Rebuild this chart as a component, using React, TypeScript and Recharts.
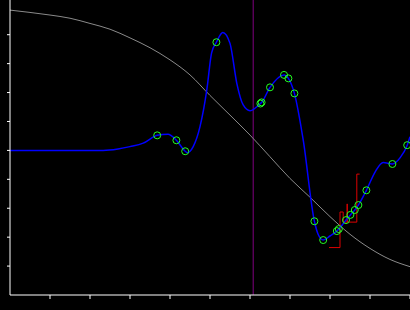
import { ComposedChart, Line, Scatter, XAxis, YAxis, ReferenceLine } from 'recharts';

// blue curve (mean)
const meanX = [0, 2.33, 2.7, 3.0, 3.33, 3.68, 3.95, 4.16, 4.38, 4.43, 4.58, 4.75, 4.92, 5.04, 5.16, 5.32, 5.5, 5.67, 5.83, 6.0, 6.17, 6.26, 6.29, 6.5, 6.85, 6.96, 7.11, 7.33, 7.61, 7.7, 7.83, 8.0, 8.17, 8.22, 8.4, 8.51, 8.62, 8.71, 8.91, 9.13, 9.33, 9.56, 9.75, 9.93, 10];
const meanY = [0, 0, 0.05, 0.13, 0.25, 0.52, 0.56, 0.35, -0.03, -0.08, 0.13, 0.82, 2.09, 3.37, 3.74, 4.08, 3.7, 2.32, 1.57, 1.37, 1.51, 1.62, 1.66, 2.18, 2.61, 2.49, 1.97, 0.36, -2.45, -2.89, -3.1, -2.96, -2.79, -2.72, -2.41, -2.23, -2.06, -1.89, -1.38, -0.74, -0.42, -0.47, -0.26, 0.18, 0.47];

// green sample markers
const pointX = [3.68, 4.16, 4.38, 5.16, 6.26, 6.29, 6.5, 6.85, 6.96, 7.11, 7.61, 7.83, 8.17, 8.22, 8.4, 8.51, 8.62, 8.71, 8.91, 9.56, 9.93];
const pointY = [0.52, 0.35, -0.03, 3.74, 1.62, 1.66, 2.18, 2.61, 2.49, 1.97, -2.45, -3.1, -2.79, -2.72, -2.41, -2.23, -2.06, -1.89, -1.38, -0.47, 0.18];

// gray reference curve
const refX = [0, 0.5, 1, 1.5, 2, 2.5, 3, 3.5, 4, 4.5, 5, 5.5, 6, 6.5, 7, 7.5, 8, 8.5, 9, 9.5, 10];
const refY = [4.85, 4.77, 4.68, 4.57, 4.39, 4.19, 3.89, 3.55, 3.13, 2.61, 1.9, 1.22, 0.53, -0.22, -0.97, -1.62, -2.29, -2.9, -3.39, -3.77, -4.02];

// red step path
const stepX = [7.975, 8.25, 8.25, 8.33, 8.33, 8.43, 8.43, 8.43, 8.67, 8.67, 8.74];
const stepY = [-3.36, -3.36, -2.13, -2.13, -2.48, -2.48, -1.85, -2.48, -2.48, -0.82, -0.82];

const currentX = 6.08;
const xTicks = [1, 2, 3, 4, 5, 6, 7, 8, 9, 10];
const yTicks = [-4, -3, -2, -1, 0, 1, 2, 3, 4];

const zip = (xs: number[], ys: number[]) => xs.map((x, i) => ({ x, y: ys[i] }));

const Marker = (props: any) => (
  <circle cx={props.cx} cy={props.cy} r={3.5} fill="none" stroke="#22ff22" strokeWidth={1} />
);

export default function App() {
  return (
    <div style={{ position: 'absolute', left: 0, top: 0, width: 410, height: 310, background: '#000' }}>
      <ComposedChart width={410} height={310} margin={{ top: 0, right: 0, bottom: 0, left: 0 }}>
        <XAxis
          type="number"
          dataKey="x"
          domain={[0, 10]}
          ticks={xTicks}
          height={15}
          tickSize={4}
          stroke="#fff"
          tickLine={{ stroke: '#fff' }}
          tickFormatter={() => ''}
        />
        <YAxis
          type="number"
          dataKey="y"
          domain={[-5, 5.2]}
          ticks={yTicks}
          width={10}
          tickSize={3}
          stroke="#fff"
          tickLine={{ stroke: '#fff' }}
          tickFormatter={() => ''}
        />
        <ReferenceLine x={currentX} stroke="#800080" strokeWidth={1} />
        <Line data={zip(refX, refY)} dataKey="y" type="monotone" stroke="#8a8a8a" strokeWidth={1} dot={false} isAnimationActive={false} />
        <Line data={zip(stepX, stepY)} dataKey="y" type="linear" stroke="#dd0000" strokeWidth={1} dot={false} isAnimationActive={false} />
        <Line data={zip(meanX, meanY)} dataKey="y" type="monotone" stroke="#0000ff" strokeWidth={1.5} dot={false} isAnimationActive={false} />
        <Scatter data={zip(pointX, pointY)} shape={Marker} isAnimationActive={false} />
      </ComposedChart>
    </div>
  );
}
